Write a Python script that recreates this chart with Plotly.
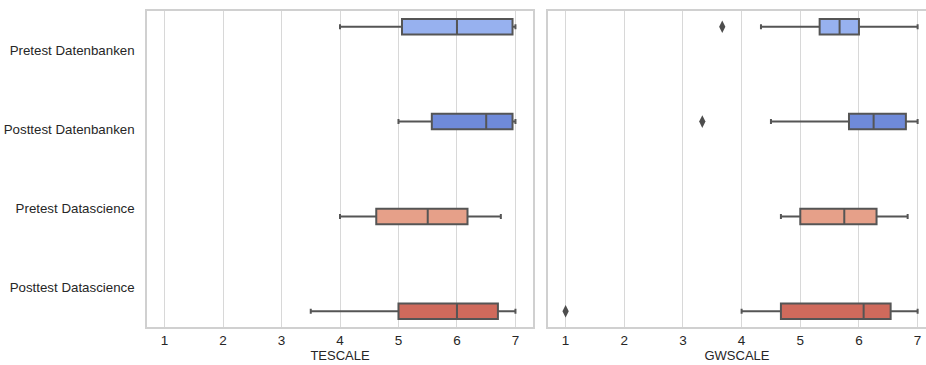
import plotly.graph_objects as go

categories = ["Pretest Datenbanken", "Posttest Datenbanken", "Pretest Datascience", "Posttest Datascience"]
hue_offsets = [-0.3, -0.1, 0.1, 0.3]
colors = ["#97b1ef", "#6f8ad9", "#e6a089", "#cf6a5c"]

# TESCALE box statistics
tes_low = [4.0, 5.0, 4.0, 3.5]
tes_q1 = [5.06, 5.57, 4.62, 5.0]
tes_med = [6.0, 6.5, 5.5, 6.0]
tes_q3 = [6.95, 6.95, 6.18, 6.7]
tes_high = [7.0, 7.0, 6.75, 7.0]
tes_outliers = [[], [], [], []]

# GWSCALE box statistics
gw_low = [4.33, 4.5, 4.67, 4.0]
gw_q1 = [5.33, 5.83, 5.0, 4.67]
gw_med = [5.67, 6.25, 5.75, 6.08]
gw_q3 = [6.0, 6.8, 6.3, 6.54]
gw_high = [7.0, 7.0, 6.83, 7.0]
gw_outliers = [[3.67], [3.33], [], [1.0]]

xtitles = ["TESCALE", "GWSCALE"]

EDGE = "#555555"
FONT = "Liberation Sans, Arial, sans-serif"

fig = go.Figure()

panels = [
    (tes_low, tes_q1, tes_med, tes_q3, tes_high, tes_outliers),
    (gw_low, gw_q1, gw_med, gw_q3, gw_high, gw_outliers),
]

for p, (lo, q1, med, q3, hi, outs) in enumerate(panels):
    xa = "x" if p == 0 else "x2"
    ya = "y" if p == 0 else "y2"
    for i, cat in enumerate(categories):
        pos = i + hue_offsets[i]
        fig.add_trace(go.Box(
            orientation="h",
            y=[pos],
            q1=[q1[i]], median=[med[i]], q3=[q3[i]],
            lowerfence=[lo[i]], upperfence=[hi[i]],
            width=0.196,
            whiskerwidth=0.32,
            fillcolor=colors[i],
            line=dict(color=EDGE, width=2),
            boxpoints=False,
            name=cat,
            showlegend=False,
            xaxis=xa, yaxis=ya,
            hoverinfo="skip",
        ))
        if outs[i]:
            fig.add_trace(go.Scatter(
                x=outs[i], y=[pos] * len(outs[i]),
                mode="markers",
                marker=dict(symbol="diamond-tall", size=9, color="#4d4d4d",
                            line=dict(width=0)),
                showlegend=False, xaxis=xa, yaxis=ya, hoverinfo="skip",
            ))

W, H = 926, 365
y_dom = [(H - 327) / H, (H - 11) / H]

axis_common = dict(
    showgrid=True, gridcolor="#d8d8d8", gridwidth=1.2,
    zeroline=False, ticks="",
    tickfont=dict(family=FONT, size=13.5, color="#262626"),
    tickvals=[1, 2, 3, 4, 5, 6, 7],
    title_font=dict(family=FONT, size=13, color="#262626"),
)

fig.update_layout(
    width=W, height=H,
    margin=dict(l=0, r=0, t=0, b=0),
    plot_bgcolor="white", paper_bgcolor="white",
    xaxis=dict(domain=[147 / W, 533 / W], range=[0.7, 7.3], anchor="y",
               showline=True, linecolor="#d0d0d0", linewidth=1.5, mirror=True,
               title=dict(text=xtitles[0], standoff=2), **axis_common),
    xaxis2=dict(domain=[548 / W, 1.0], range=[0.7, 0.7 + 378 / 58.67], anchor="y2",
                showline=True, linecolor="#d0d0d0", linewidth=1.5, mirror=True,
                title=dict(text=xtitles[1], standoff=2), **axis_common),
    yaxis=dict(domain=y_dom, range=[3.5, -0.5], anchor="x",
               tickvals=[0, 1, 2, 3], ticktext=categories,
               showgrid=False, zeroline=False, ticks="",
               ticklabelstandoff=8,
               showline=True, linecolor="#d0d0d0", linewidth=1.5, mirror=True,
               tickfont=dict(family=FONT, size=13.3, color="#262626")),
    yaxis2=dict(domain=y_dom, range=[3.5, -0.5], anchor="x2",
                tickvals=[0, 1, 2, 3], showticklabels=False,
                showgrid=False, zeroline=False, ticks="",
                showline=True, linecolor="#d0d0d0", linewidth=1.5, mirror=False),
)

fig.write_html("out.html")
